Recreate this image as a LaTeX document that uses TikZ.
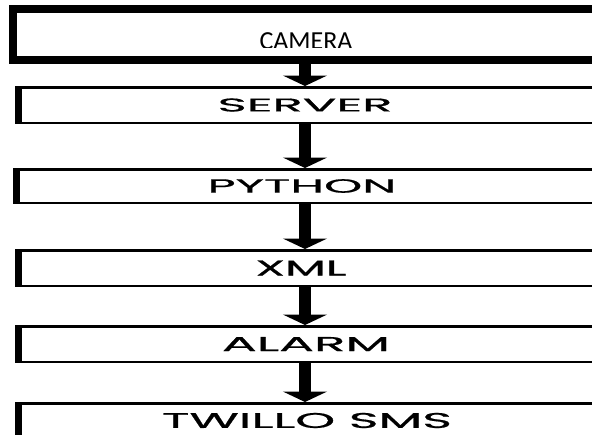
\documentclass[tikz,border=0pt]{standalone}
\usepackage{fontspec}
\usetikzlibrary{arrows.meta}
\newfontfamily\camfont{Carlito}
\newfontfamily\gothic[FakeBold=0.6]{Poppins}
\newcommand{\bt}[4]{\makebox[0pt]{\hspace*{#4}\resizebox{#1}{#2}{\gothic #3}}}
\tikzset{
  thinbox/.style={draw=black, line width=2.5pt, inner sep=0pt, minimum width=590pt, minimum height=35.5pt},
  thickbox/.style={draw=black, line width=8pt, inner sep=0pt, minimum width=600pt, minimum height=51pt},
  flowarrow/.style={draw=black, line width=12pt, -{Triangle[width=44pt,length=10.5pt]}},
  leftbar/.style={fill=black}
}
\begin{document}
\begin{tikzpicture}[x=1pt,y=-1pt]
\useasboundingbox (0,0) rectangle (592,434);
\clip (0,0) rectangle (592,434);
\fill[white] (0,0) rectangle (592,434);
\coordinate (axis) at (305,0);
% boxes
\node[thickbox] (camera) at (313,34.5) {};
\node[thinbox] (server) at (311.25,105) {\bt{175pt}{13pt}{SERVER}{-12.5pt}};
\node[thinbox, minimum height=33.5pt] (python) at (309.25,186) {\bt{189pt}{13.5pt}{PYTHON}{-14.5pt}};
\node[thinbox] (xml) at (311.25,268) {\bt{91pt}{15pt}{XML}{-20.5pt}};
\node[thinbox] (alarm) at (311.25,344) {\bt{168pt}{14pt}{ALARM}{-10.5pt}};
\node[thinbox, minimum height=34.5pt] (twillo) at (311.25,420.5) {\bt{290pt}{15pt}{TWILLO SMS}{-8.5pt}};
% thick left sides
\foreach \b in {server,python,xml,alarm,twillo}
  \fill[leftbar] (\b.south west) rectangle ([xshift=6.5pt]\b.north west);
% clipped camera label
\begin{scope}
\clip (0,0) rectangle (592,47);
\node[font=\camfont\fontsize{26}{30}\selectfont, anchor=base, inner sep=0pt] (camtext) at (306,49.4) {CAMERA};
\end{scope}
% arrows
\draw[flowarrow] (camera.south -| axis) -- (server.north -| axis);
\draw[flowarrow] (server.south -| axis) -- (python.north -| axis);
\draw[flowarrow] (python.south -| axis) -- (xml.north -| axis);
\draw[flowarrow] (xml.south -| axis) -- (alarm.north -| axis);
\draw[flowarrow] (alarm.south -| axis) -- (twillo.north -| axis);
\end{tikzpicture}
\end{document}
